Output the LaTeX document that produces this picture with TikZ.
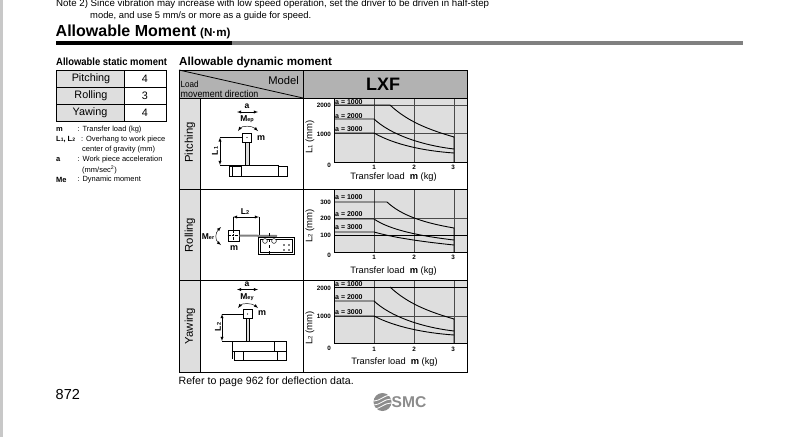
\documentclass[tikz,border=0pt]{standalone}
\usepackage{fontspec}
\setmainfont{Liberation Sans}
\newfontfamily\narrowfont[FakeStretch=0.9]{Liberation Sans}
\usepackage{xcolor}
\definecolor{sidegray}{HTML}{C8C8C8}
\definecolor{headgray}{HTML}{B2B2B2}
\definecolor{cellgray}{HTML}{DEDEDE}
\definecolor{gridgray}{HTML}{4A4A4A}
\definecolor{logogray}{HTML}{8C8C8C}
\newcommand{\fs}[1]{\fontsize{#1}{#1}\selectfont}
\tikzset{
    txt/.style={inner sep=0pt, anchor=west},
    mid/.style={inner sep=0pt},
    turned/.style={inner sep=0pt, rotate=90},
    tick/.style={inner sep=0pt, font=\fs{6.3}\bfseries},
    acc/.style={inner sep=0pt, anchor=west, font=\fs{7}\bfseries},
    xlabel/.style={inner sep=0pt, font=\fs{9.3}},
    legend/.style={inner sep=0pt, anchor=west, font=\fs{7.5}},
    grid/.style={draw=gridgray, line width=0.9pt},
    curve/.style={draw=black, line width=0.9pt},
    frame/.style={draw=black, line width=0.8pt},
    part/.style={draw=black, line width=0.6pt},
    dim/.style={draw=black, line width=0.45pt},
    dimarrow/.style={dim, <->, >=latex},
}
\begin{document}
\begin{tikzpicture}[x=1pt, y=-1pt]
        \useasboundingbox (0,0) rectangle (795,437);
        \fill[sidegray] (0,0) rectangle (3,437);
        % Page heading
        \node[txt, font=\fs{9.7}] (NoteA) at (56,4) {Note 2) Since vibration may increase with low speed operation, set the driver to be driven in half-step};
        \node[txt, font=\fs{9.4}] (NoteB) at (90,16) {mode, and use 5 mm/s or more as a guide for speed.};
        \node[txt, font=\fs{16}\bfseries] (Title) at (55.5,30.5) {Allowable Moment};
        \node[txt, font=\fs{11.6}\bfseries] (Unit) at (200,33) {(N·m)};
        \fill[black] (56,40.7) rectangle (232,44.7);
        \fill[gray] (232,40.7) rectangle (743,44.7);
        % Static moment table
        \node[txt, font=\fs{10.5}\bfseries\narrowfont] (StaticTitle) at (56,62) {Allowable static moment};
        \fill[cellgray] (56,70) rectangle (124.5,121);
        \draw[frame] (56,70) rectangle (166,121);
        \draw[frame] (124.5,70) -- (124.5,121);
        \draw[frame] (56,87) -- (166,87);
        \draw[frame] (56,104) -- (166,104);
        \node[mid, font=\fs{10.8}] (StatP) at (91,79) {Pitching};
        \node[mid, font=\fs{10.8}] (StatR) at (91,96) {Rolling};
        \node[mid, font=\fs{10.8}] (StatY) at (90,113) {Yawing};
        \node[mid, font=\fs{10.8}] (ValP) at (145,79) {4};
        \node[mid, font=\fs{10.8}] (ValR) at (145,96) {3};
        \node[mid, font=\fs{10.8}] (ValY) at (145,113) {4};
        % Legend
        \node[legend] (KeyM) at (56,129.5) {\textbf{m}};
        \node[legend] (TxtM) at (77.5,129.5) {: Transfer load (kg)};
        \node[legend] (KeyL) at (56,139.5) {\textbf{L\fs{5}1\fs{7.5}, L\fs{5}2}};
        \node[legend] (TxtL) at (81,139.5) {: Overhang to work piece};
        \node[legend] (TxtLb) at (82,149.5) {center of gravity (mm)};
        \node[legend] (KeyA) at (56,159.5) {\textbf{a}};
        \node[legend] (TxtA) at (77.5,159.5) {: Work piece acceleration};
        \node[legend] (TxtAb) at (82,169.5) {(mm/sec\textsuperscript{2})};
        \node[legend] (KeyMe) at (56,179.5) {\textbf{Me}};
        \node[legend] (TxtMe) at (77.5,179.5) {: Dynamic moment};
        % Main table
        \node[txt, font=\fs{11.6}\bfseries] (DynTitle) at (179,62) {Allowable dynamic moment};
        \fill[headgray] (179,70) rectangle (467,98);
        \fill[cellgray] (179,98) rectangle (200.5,372);
        \fill[cellgray] (334,98) rectangle (467,162);
        \fill[cellgray] (334,190) rectangle (467,252);
        \fill[cellgray] (334,281) rectangle (467,343);
        \node[mid, anchor=east, font=\fs{11.2}] (Model) at (299,80) {Model};
        \node[txt, font=\fs{9}\narrowfont] (Load) at (180.5,84.5) {Load};
        \node[txt, font=\fs{9.9}\narrowfont] (Direction) at (180.5,93.5) {movement direction};
        \node[mid, font=\fs{18}\bfseries] (LXF) at (383,84) {LXF};
        \node[turned, font=\fs{11.3}] (RowP) at (190,142.5) {Pitching};
        \node[turned, font=\fs{11.3}] (RowR) at (190,235) {Rolling};
        \node[turned, font=\fs{11.3}] (RowY) at (190,326) {Yawing};
        % Chart one
        \foreach \gx in {374,414,454} \draw[grid] (\gx,98) -- (\gx,162);
        \draw[grid] (334,105) -- (467,105);
        \draw[grid] (334,133) -- (467,133);
        \draw[curve] (334,162) -- (467,162);
        \draw[curve] (334,98) -- (334,162);
        \draw[curve] (334,105) -- (390,105) .. controls (408,122) and (430,130) .. (454,137) -- (454,162);
        \draw[curve] (334,119) -- (374,119) .. controls (390,134) and (420,145) .. (454,149);
        \draw[curve] (334,133) -- (374,133) .. controls (395,145) and (425,151) .. (454,153);
        \node[acc] (OneA) at (335,102) {a = 1000};
        \node[acc] (OneB) at (335,116) {a = 2000};
        \node[acc] (OneC) at (335,129.5) {a = 3000};
        \node[tick, anchor=east] (OneY) at (331,105) {2000};
        \node[tick, anchor=east] (OneX) at (331,134) {1000};
        \node[tick, anchor=east] (OneO) at (331,165) {0};
        \node[tick] (OneP) at (374,167) {1};
        \node[tick] (OneQ) at (414,167) {2};
        \node[tick] (OneR) at (453,167) {3};
        \node[xlabel] (OneT) at (393.5,177.5) {Transfer load\ \ \textbf{m} (kg)};
        \node[turned, font=\fs{9.5}] (OneL) at (310,137) {L\fs{6}1\fs{9.5} (mm)};
        % Chart two
        \foreach \gx in {374,414,454} \draw[grid] (\gx,190) -- (\gx,252);
        \draw[grid] (334,218) -- (467,218);
        \draw[curve] (334,235) -- (467,235);
        \draw[curve] (334,252) -- (467,252);
        \draw[curve] (334,190) -- (334,252);
        \draw[curve] (334,202) -- (387,202) .. controls (402,216) and (425,223) .. (454,228) -- (454,252);
        \draw[curve] (334,219) -- (374,219) .. controls (390,230) and (420,236) .. (454,240);
        \draw[curve] (334,232) -- (374,232) .. controls (395,238) and (425,242) .. (454,245);
        \node[acc] (TwoA) at (335,197.5) {a = 1000};
        \node[acc] (TwoB) at (335,214.5) {a = 2000};
        \node[acc] (TwoC) at (335,227.5) {a = 3000};
        \node[tick, anchor=east] (TwoY) at (331,202.5) {300};
        \node[tick, anchor=east] (TwoX) at (331,218.5) {200};
        \node[tick, anchor=east] (TwoW) at (331,235.5) {100};
        \node[tick, anchor=east] (TwoO) at (331,255.5) {0};
        \node[tick] (TwoP) at (374,257.5) {1};
        \node[tick] (TwoQ) at (414,257.5) {2};
        \node[tick] (TwoR) at (453,257.5) {3};
        \node[xlabel] (TwoT) at (393.5,271.5) {Transfer load\ \ \textbf{m} (kg)};
        \node[turned, font=\fs{9.5}] (TwoL) at (310,226) {L\fs{6}2\fs{9.5} (mm)};
        % Chart three
        \foreach \gx in {374,414,454} \draw[grid] (\gx,281) -- (\gx,343);
        \draw[grid] (334,316) -- (467,316);
        \draw[curve] (334,343) -- (467,343);
        \draw[curve] (334,281) -- (334,343);
        \draw[curve] (334,301) -- (374,301) .. controls (390,316) and (420,327) .. (454,331);
        \draw[curve] (334,316) -- (374,316) .. controls (395,327) and (425,333) .. (454,335);
        \draw[curve] (390,287) .. controls (408,304) and (430,312) .. (454,319) -- (454,343);
        \draw[curve] (334,287) -- (467,287);
        \node[acc] (ThreeA) at (335,284) {a = 1000};
        \node[acc] (ThreeB) at (335,297.5) {a = 2000};
        \node[acc] (ThreeC) at (335,312) {a = 3000};
        \node[tick, anchor=east] (ThreeY) at (331,288) {2000};
        \node[tick, anchor=east] (ThreeX) at (331,316.5) {1000};
        \node[tick, anchor=east] (ThreeO) at (331,348) {0};
        \node[tick] (ThreeP) at (374,349) {1};
        \node[tick] (ThreeQ) at (414,349) {2};
        \node[tick] (ThreeR) at (453,349) {3};
        \node[xlabel] (ThreeT) at (394.5,362) {Transfer load\ \ \textbf{m} (kg)};
        \node[turned, font=\fs{9.5}] (ThreeL) at (310,328) {L\fs{6}2\fs{9.5} (mm)};
        % Table rules
        \draw[frame] (179,70) -- (303,98);
        \draw[frame] (179,98) -- (467,98);
        \draw[frame] (179,189.5) -- (467,189.5);
        \draw[frame] (179,280.5) -- (467,280.5);
        \draw[frame] (200.5,98) -- (200.5,372);
        \draw[frame] (303,70) -- (303,372);
        \draw[frame] (179,70) rectangle (467,372);
        % Pitching picture
        \node[mid, font=\fs{8.5}\bfseries] (PitA) at (247,106.5) {a};
        \coordinate (PitAl) at (237,112);
        \coordinate (PitAr) at (258,112);
        \draw[dimarrow] (PitAl) -- (PitAr);
        \node[mid, font=\fs{8.5}\bfseries] (PitM) at (247,119.5) {M\fs{5.5}ep};
        \draw[dim, <->, >=latex] (238,131) .. controls (242,125.5) and (252,125.5) .. (258,131);
        \node[draw=black, line width=0.7pt, fill=white, minimum size=9pt, inner sep=0pt] (PitBox) at (247,137.5) {};
        \fill (PitBox.center) circle (0.6pt);
        \node[mid, font=\fs{9}\bfseries] (PitMass) at (261,138) {m};
        \coordinate (PitTop) at (220,137.5);
        \coordinate (PitLow) at (220,165);
        \draw[dim] (PitTop) -- (PitBox.west);
        \draw[dimarrow] (PitTop) -- (PitLow);
        \draw[dim] (PitLow) -- (245,165);
        \node[turned, font=\fs{8.5}\bfseries] (PitL) at (215,151) {L\fs{5.5}1};
        \draw[part, fill=cellgray] (245.7,142) rectangle (248.8,165);
        \draw[part] (229.5,166) rectangle (287,176);
        \draw[part] (232,166) -- (232,176);
        \draw[part, fill=white] (241,165.5) rectangle (278,176);
        % Rolling picture
        \node[mid, font=\fs{8.5}\bfseries] (RolM) at (208,237) {M\fs{5.5}er};
        \draw[dim, <->, >=latex] (221,227) .. controls (215,233) and (215,240) .. (221,245);
        \node[draw=black, line width=0.7pt, minimum size=11pt, inner sep=0pt] (RolBox) at (233.5,235.5) {};
        \draw[densely dotted, line width=0.4pt] (RolBox.north) -- (RolBox.south);
        \draw[densely dotted, line width=0.4pt] (RolBox.west) -- (RolBox.east);
        \node[mid, font=\fs{9}\bfseries] (RolMass) at (234,248) {m};
        \node[mid, font=\fs{8.5}\bfseries] (RolL) at (245,211.5) {L\fs{5.5}2};
        \coordinate (RolDl) at (233,217);
        \coordinate (RolDr) at (259,217);
        \draw[dimarrow] (RolDl) -- (RolDr);
        \draw[dim] (RolDl) -- (233,230);
        \draw[dim] (RolDr) -- (259,238);
        \draw[part] (258,237) rectangle (294,254);
        \draw[dim] (260,239) rectangle (292,252);
        \draw[draw=gray, line width=2pt] (RolBox.east) -- (277,236);
        \draw[dim, fill=white] (265,241) circle (2.4pt);
        \draw[dim, fill=white] (274,241) circle (2.4pt);
        \draw[dim, dashed] (269,233) -- (269,256);
        \foreach \hx in {284,289} \foreach \hy in {245,250} \fill (\hx,\hy) circle (0.9pt);
        % Yawing picture
        \node[mid, font=\fs{8.5}\bfseries] (YawA) at (247,284.5) {a};
        \coordinate (YawAl) at (237,289.5);
        \coordinate (YawAr) at (258,289.5);
        \draw[dimarrow] (YawAl) -- (YawAr);
        \node[mid, font=\fs{8.5}\bfseries] (YawM) at (247,297.5) {M\fs{5.5}ey};
        \draw[dim, <->, >=latex] (238,308) .. controls (242,303) and (252,303) .. (258,308);
        \node[draw=black, line width=0.7pt, fill=white, minimum size=9pt, inner sep=0pt] (YawBox) at (247.5,314) {};
        \fill (YawBox.center) circle (0.6pt);
        \node[mid, font=\fs{9}\bfseries] (YawMass) at (262,313) {m};
        \coordinate (YawTop) at (222,314);
        \coordinate (YawLow) at (222,341);
        \draw[dim] (YawTop) -- (YawBox.west);
        \draw[dimarrow] (YawTop) -- (YawLow);
        \draw[dim] (YawLow) -- (245,341);
        \node[turned, font=\fs{8.5}\bfseries] (YawL) at (218,327) {L\fs{5.5}2};
        \draw[part, fill=cellgray] (246,318.5) rectangle (249,341);
        \draw[part] (232,341) rectangle (286.5,351);
        \draw[part] (274,341) -- (274,351);
        \draw[part] (234,351) rectangle (286.5,360);
        \draw[part] (243,351) -- (243,360);
        \draw[part] (277,351) -- (277,360);
        \draw[part] (232,351) -- (232,359);
        % Foot of the page
        \node[txt, font=\fs{10.6}] (Refer) at (178.5,382) {Refer to page 962 for deflection data.};
        \node[txt, font=\fs{14.5}] (PageNo) at (55.5,395) {872};
        \fill[logogray] (382.5,402) circle (9pt);
        \foreach \sy in {-4,0,4}
            \draw[white, line width=0.8pt] (374,402+\sy+3) .. controls (380,402+\sy+3) and (384,402+\sy-3) .. (391,402+\sy-3);
        \node[txt, font=\fs{15.6}\bfseries, text=logogray] (Logo) at (391.5,402) {SMC};
\end{tikzpicture}
\end{document}
